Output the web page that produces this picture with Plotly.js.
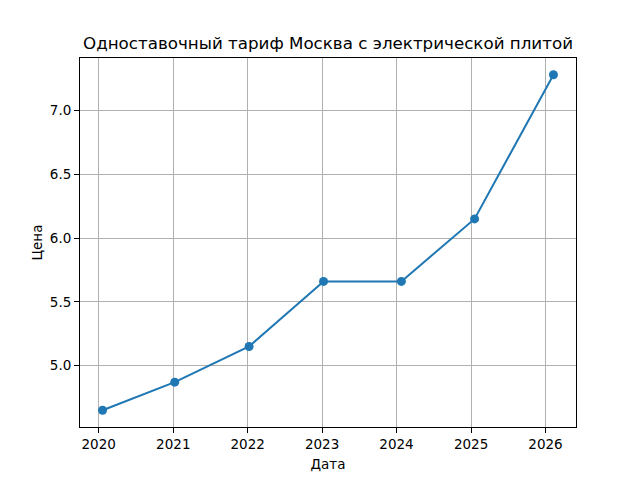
<!DOCTYPE html>
<html>
<head>
<meta charset="utf-8">
<script src="https://cdn.plot.ly/plotly-3.0.1.min.js"></script>
<style>
  html, body { margin: 0; padding: 0; background: #fff; }
  #chart { width: 640px; height: 480px; }
</style>
</head>
<body>
<div id="chart"></div>
<script>
// dates of tariff changes and single-rate price (electric stove), Moscow
var dates = ['2020-01-20', '2021-01-08', '2022-01-08', '2023-01-08', '2024-01-25', '2025-01-18', '2026-02-09'];
var prices = [4.65, 4.87, 5.15, 5.66, 5.66, 6.15, 7.28];

var chartTitle = 'Одноставочный тариф Москва с электрической плитой';
var xLabel = 'Дата';
var yLabel = 'Цена';

// matplotlib style 5% autoscale margins
function padRange(lo, hi) {
  var m = (hi - lo) * 0.05;
  return [lo - m, hi + m];
}
var t = dates.map(function (d) { return new Date(d + 'T00:00:00Z').getTime(); });
var xr = padRange(Math.min.apply(null, t), Math.max.apply(null, t));
var yr = padRange(Math.min.apply(null, prices), Math.max.apply(null, prices));

var font = {family: 'DejaVu Sans', size: 13.5, color: '#000'};

var data = [{
  x: dates,
  y: prices,
  type: 'scatter',
  mode: 'lines+markers',
  line: {color: '#1f77b4', width: 2},
  marker: {color: '#1f77b4', size: 9},
  hoverinfo: 'x+y'
}];

var layout = {
  width: 640,
  height: 480,
  paper_bgcolor: '#fff',
  plot_bgcolor: '#fff',
  font: font,
  showlegend: false,
  margin: {l: 80, r: 64, t: 58, b: 53},
  title: {
    text: chartTitle,
    font: {family: 'DejaVu Sans', size: 16.7, color: '#000'},
    x: 0.5, xref: 'paper', xanchor: 'center',
    y: 1 - 43 / 480, yref: 'container', yanchor: 'middle'
  },
  xaxis: {
    type: 'date',
    range: [new Date(xr[0]).toISOString(), new Date(xr[1]).toISOString()],
    tick0: '2020-01-01',
    dtick: 'M12',
    tickformat: '%Y',
    showgrid: true, gridcolor: '#b0b0b0', gridwidth: 1,
    showline: true, linecolor: '#000', linewidth: 1, mirror: true,
    ticks: 'outside', ticklen: 5, tickcolor: '#000', tickwidth: 1,
    zeroline: false,
    tickfont: font,
    title: {text: xLabel, font: font, standoff: 8}
  },
  yaxis: {
    range: yr,
    dtick: 0.5,
    tickformat: '.1f',
    showgrid: true, gridcolor: '#b0b0b0', gridwidth: 1,
    showline: true, linecolor: '#000', linewidth: 1, mirror: true,
    ticks: 'outside', ticklen: 5, tickcolor: '#000', tickwidth: 1,
    zeroline: false,
    tickfont: font,
    title: {text: yLabel, font: font, standoff: 4}
  }
};

Plotly.newPlot('chart', data, layout, {displayModeBar: false, staticPlot: true});
</script>
</body>
</html>
